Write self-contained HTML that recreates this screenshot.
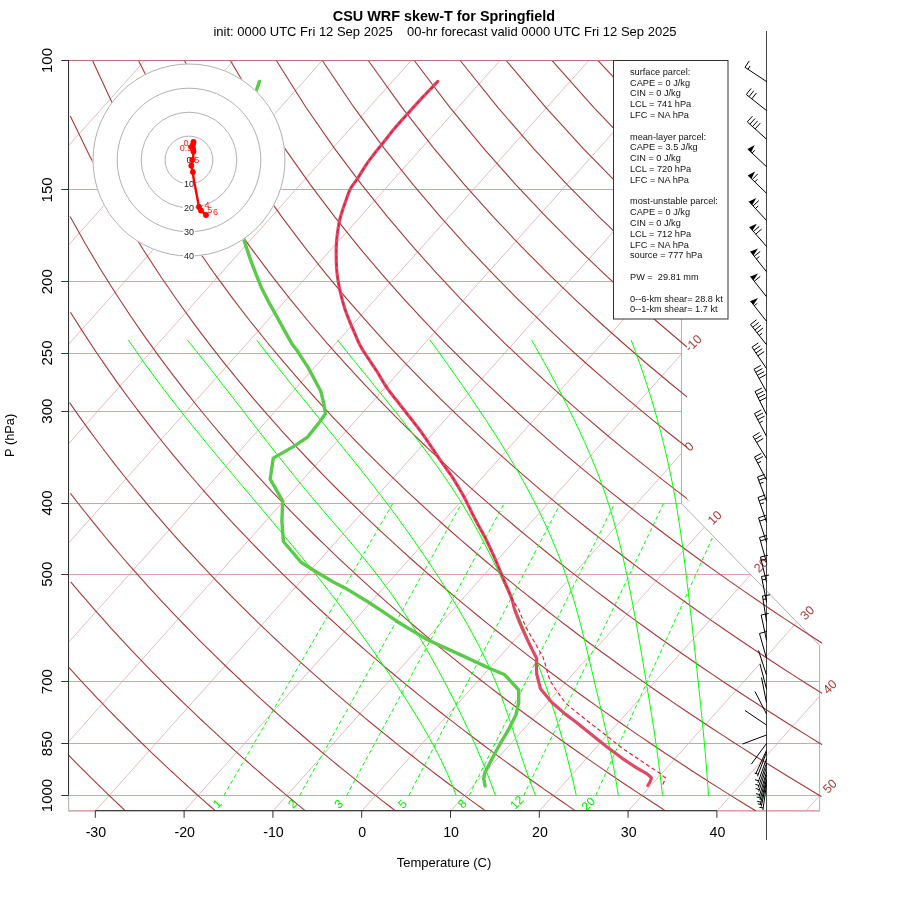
<!DOCTYPE html>
<html><head><meta charset="utf-8"><title>CSU WRF skew-T for Springfield</title>
<style>html,body{margin:0;padding:0;background:#fff;}svg{display:block;}</style></head>
<body><svg width="900" height="900" viewBox="0 0 900 900">
<rect width="900" height="900" fill="#fff"/>
<defs>
<clipPath id="cp"><polygon points="68.67,60.52 681.5,60.52 681.5,503.58 819.61,645.37 819.61,811.09 68.67,811.09"/></clipPath>
<clipPath id="cpd"><polygon points="68.67,58.52 687,58.52 687,498.63 822.11,641.37 822.11,796.09 819.91,798.09 819.91,811.09 68.67,811.09"/></clipPath>
</defs>
<polygon points="68.67,60.52 681.5,60.52 681.5,503.58 819.61,645.37 819.61,811.09 68.67,811.09" fill="none" stroke="#b0b0b0" stroke-width="1"/>
<g stroke="#dba0a4" stroke-width="1" fill="none"><line x1="68.67" y1="810.6" x2="819.61" y2="810.6"/><line x1="68.67" y1="795.5" x2="819.61" y2="795.5"/><line x1="68.67" y1="743.5" x2="819.61" y2="743.5"/><line x1="68.67" y1="681.5" x2="819.61" y2="681.5"/><line x1="68.67" y1="574.5" x2="750.35" y2="574.5"/><line x1="68.67" y1="503.5" x2="681.5" y2="503.5"/><line x1="68.67" y1="411.5" x2="681.5" y2="411.5"/><line x1="68.67" y1="353.5" x2="681.5" y2="353.5"/><line x1="68.67" y1="281.5" x2="681.5" y2="281.5"/><line x1="68.67" y1="189.5" x2="681.5" y2="189.5"/><line x1="68.67" y1="60.5" x2="681.5" y2="60.5"/></g>
<g clip-path="url(#cp)" stroke="#e0aaaa" stroke-width="0.8" fill="none"><line x1="-526.27" y1="811.09" x2="144.75" y2="60.52"/><line x1="-437.48" y1="811.09" x2="233.55" y2="60.52"/><line x1="-348.68" y1="811.09" x2="322.34" y2="60.52"/><line x1="-259.88" y1="811.09" x2="411.14" y2="60.52"/><line x1="-171.08" y1="811.09" x2="499.94" y2="60.52"/><line x1="-82.29" y1="811.09" x2="588.74" y2="60.52"/><line x1="6.51" y1="811.09" x2="677.53" y2="60.52"/><line x1="95.31" y1="811.09" x2="766.33" y2="60.52"/><line x1="184.11" y1="811.09" x2="855.13" y2="60.52"/><line x1="272.9" y1="811.09" x2="943.93" y2="60.52"/><line x1="361.7" y1="811.09" x2="1032.72" y2="60.52"/><line x1="450.5" y1="811.09" x2="1121.52" y2="60.52"/><line x1="539.3" y1="811.09" x2="1210.32" y2="60.52"/><line x1="628.09" y1="811.09" x2="1299.12" y2="60.52"/><line x1="716.89" y1="811.09" x2="1387.91" y2="60.52"/><line x1="805.69" y1="811.09" x2="1476.71" y2="60.52"/></g>
<g clip-path="url(#cpd)" stroke="#a63a3a" stroke-width="1.1" fill="none"><polyline points="68.2,754.71 69.2,755.74 70.19,756.76 71.19,757.78 72.18,758.8 73.17,759.81 74.16,760.82 75.15,761.83 76.14,762.83 77.12,763.83 78.11,764.83 79.09,765.82 80.07,766.81 81.05,767.8 82.03,768.79 83.01,769.77 83.99,770.75 84.96,771.72 85.93,772.69 86.91,773.66 87.88,774.63 88.85,775.6 89.81,776.56 90.78,777.52 91.75,778.47 92.71,779.42 93.67,780.37 94.63,781.32 95.59,782.26 96.55,783.21 97.51,784.14 98.47,785.08 99.42,786.01 100.38,786.94 101.33,787.87 102.28,788.8 103.23,789.72 104.18,790.64 105.12,791.56 106.07,792.47 107.01,793.38 107.96,794.29 108.9,795.2 109.84,796.1 110.78,797 111.72,797.9 112.66,798.8 113.59,799.69 114.53,800.58 115.46,801.47 116.39,802.36 117.32,803.24 118.25,804.12 119.18,805 120.11,805.88 121.04,806.75 121.96,807.63 122.88,808.5 123.81,809.36 124.73,810.23 125.65,811.09"/><polyline points="69.05,667.68 71.76,670.69 74.47,673.66 77.16,676.61 79.85,679.53 82.52,682.42 85.18,685.29 87.83,688.13 90.48,690.95 93.11,693.74 95.73,696.51 98.34,699.26 100.94,701.98 103.53,704.68 106.12,707.35 108.69,710.01 111.25,712.64 113.8,715.25 116.35,717.84 118.88,720.41 121.41,722.96 123.92,725.48 126.43,727.99 128.93,730.48 131.42,732.95 133.9,735.4 136.37,737.83 138.83,740.24 141.29,742.64 143.73,745.01 146.17,747.37 148.6,749.72 151.02,752.04 153.43,754.35 155.83,756.64 158.23,758.92 160.62,761.17 163,763.42 165.37,765.65 167.74,767.86 170.09,770.06 172.44,772.24 174.78,774.4 177.12,776.56 179.44,778.7 181.76,780.82 184.07,782.93 186.38,785.03 188.67,787.11 190.96,789.18 193.25,791.23 195.52,793.27 197.79,795.3 200.05,797.32 202.31,799.32 204.56,801.32 206.8,803.29 209.03,805.26 211.26,807.22 213.48,809.16 215.69,811.09"/><polyline points="70.71,581.83 75.36,587.37 79.97,592.82 84.56,598.18 89.11,603.44 93.63,608.62 98.13,613.72 102.59,618.74 107.02,623.68 111.42,628.55 115.8,633.34 120.14,638.07 124.46,642.72 128.75,647.31 133.01,651.83 137.25,656.28 141.46,660.68 145.65,665.02 149.81,669.3 153.94,673.52 158.05,677.69 162.14,681.8 166.2,685.86 170.24,689.87 174.26,693.83 178.25,697.74 182.22,701.61 186.17,705.43 190.09,709.2 194,712.93 197.88,716.62 201.74,720.26 205.58,723.86 209.4,727.42 213.21,730.95 216.99,734.43 220.75,737.88 224.49,741.29 228.21,744.66 231.92,748 235.6,751.31 239.27,754.58 242.92,757.82 246.55,761.02 250.16,764.19 253.76,767.34 257.34,770.45 260.9,773.53 264.44,776.58 267.97,779.6 271.48,782.6 274.98,785.56 278.46,788.5 281.92,791.42 285.37,794.3 288.8,797.16 292.22,800 295.62,802.81 299.01,805.59 302.38,808.35 305.74,811.09"/><polyline points="70.45,493.31 77.35,502.26 84.17,510.97 90.92,519.44 97.6,527.7 104.21,535.74 110.76,543.59 117.24,551.26 123.66,558.74 130.02,566.05 136.31,573.19 142.55,580.18 148.73,587.02 154.85,593.72 160.92,600.28 166.94,606.71 172.9,613.01 178.81,619.19 184.66,625.25 190.47,631.2 196.24,637.04 201.95,642.77 207.62,648.4 213.24,653.94 218.81,659.38 224.35,664.73 229.84,669.99 235.29,675.17 240.69,680.26 246.06,685.28 251.39,690.21 256.67,695.07 261.92,699.86 267.14,704.58 272.31,709.23 277.45,713.81 282.56,718.33 287.62,722.78 292.66,727.17 297.66,731.51 302.63,735.78 307.56,740 312.47,744.16 317.34,748.28 322.18,752.33 326.99,756.34 331.77,760.3 336.52,764.21 341.24,768.07 345.93,771.88 350.6,775.65 355.23,779.38 359.84,783.06 364.43,786.7 368.98,790.3 373.51,793.86 378.02,797.38 382.5,800.87 386.95,804.31 391.38,807.72 395.78,811.09"/><polyline points="69.56,402.57 79.02,416.09 88.34,429.06 97.53,441.53 106.59,453.52 115.53,465.08 124.34,476.24 133.03,487.02 141.61,497.45 150.08,507.55 158.44,517.34 166.7,526.83 174.85,536.06 182.91,545.02 190.87,553.74 198.73,562.23 206.51,570.49 214.2,578.55 221.8,586.41 229.32,594.08 236.76,601.57 244.12,608.89 251.4,616.05 258.61,623.05 265.75,629.89 272.81,636.6 279.81,643.16 286.74,649.6 293.6,655.91 300.4,662.09 307.14,668.16 313.82,674.11 320.43,679.96 326.99,685.7 333.49,691.34 339.93,696.88 346.32,702.32 352.66,707.68 358.94,712.94 365.17,718.12 371.36,723.22 377.49,728.24 383.57,733.18 389.61,738.05 395.6,742.84 401.55,747.56 407.45,752.21 413.31,756.8 419.12,761.32 424.9,765.77 430.63,770.17 436.32,774.51 441.97,778.78 447.58,783.01 453.16,787.17 458.69,791.29 464.19,795.35 469.65,799.36 475.08,803.32 480.47,807.23 485.83,811.09"/><polyline points="70.41,312.2 82.71,331.66 94.78,350.01 106.63,367.36 118.26,383.81 129.69,399.46 140.91,414.38 151.95,428.63 162.79,442.27 173.46,455.35 183.96,467.92 194.29,480.01 204.46,491.66 214.48,502.9 224.35,513.76 234.08,524.26 243.67,534.42 253.13,544.27 262.46,553.83 271.66,563.11 280.75,572.12 289.72,580.89 298.57,589.43 307.32,597.74 315.96,605.84 324.5,613.74 332.94,621.45 341.28,628.98 349.53,636.34 357.69,643.52 365.76,650.56 373.74,657.43 381.64,664.17 389.46,670.76 397.2,677.23 404.86,683.56 412.45,689.77 419.96,695.86 427.4,701.84 434.77,707.7 442.07,713.47 449.31,719.13 456.48,724.69 463.59,730.15 470.63,735.53 477.61,740.81 484.54,746.01 491.4,751.12 498.21,756.16 504.97,761.12 511.66,766 518.31,770.8 524.9,775.54 531.44,780.21 537.93,784.81 544.38,789.34 550.77,793.81 557.11,798.22 563.41,802.57 569.67,806.86 575.88,811.09"/><polyline points="70.09,216.48 85.6,244.19 100.76,269.68 115.58,293.29 130.07,315.28 144.24,335.84 158.11,355.17 171.68,373.38 184.97,390.62 197.99,406.97 210.76,422.52 223.28,437.36 235.56,451.53 247.63,465.1 259.48,478.12 271.12,490.62 282.57,502.66 293.83,514.26 304.91,525.45 315.82,536.26 326.55,546.72 337.13,556.84 347.56,566.66 357.83,576.18 367.96,585.43 377.96,594.41 387.82,603.15 397.55,611.66 407.15,619.94 416.63,628.02 426,635.9 435.25,643.58 444.4,651.09 453.43,658.43 462.37,665.59 471.2,672.61 479.93,679.47 488.57,686.18 497.12,692.76 505.57,699.21 513.94,705.53 522.23,711.72 530.43,717.8 538.55,723.76 546.59,729.62 554.56,735.37 562.45,741.01 570.26,746.56 578.01,752.02 585.68,757.38 593.29,762.65 600.83,767.84 608.31,772.95 615.72,777.97 623.07,782.92 630.35,787.79 637.58,792.59 644.75,797.32 651.86,801.97 658.92,806.56 665.92,811.09"/><polyline points="70.3,116.04 89.29,155.17 107.82,190.02 125.88,221.43 143.46,250.03 160.58,276.27 177.26,300.52 193.52,323.06 209.37,344.11 224.84,363.86 239.95,382.46 254.72,400.03 269.16,416.69 283.3,432.52 297.14,447.6 310.71,462 324.01,475.78 337.06,488.99 349.87,501.67 362.45,513.87 374.81,525.62 386.96,536.95 398.91,547.9 410.67,558.48 422.24,568.72 433.64,578.65 444.86,588.27 455.92,597.61 466.82,606.69 477.57,615.52 488.18,624.1 498.64,632.47 508.96,640.62 519.15,648.56 529.21,656.32 539.15,663.89 548.97,671.28 558.67,678.51 568.25,685.58 577.73,692.49 587.1,699.26 596.37,705.89 605.53,712.38 614.6,718.74 623.58,724.98 632.46,731.1 641.25,737.1 649.95,742.99 658.56,748.78 667.09,754.46 675.55,760.05 683.92,765.53 692.21,770.93 700.43,776.24 708.57,781.45 716.64,786.59 724.64,791.64 732.57,796.62 740.44,801.51 748.23,806.34 755.97,811.09"/><polyline points="92.49,60.52 114.31,107.44 135.56,148.33 156.2,184.58 176.22,217.13 195.64,246.66 214.49,273.69 232.81,298.61 250.61,321.73 267.94,343.28 284.82,363.47 301.28,382.46 317.34,400.38 333.02,417.35 348.35,433.46 363.34,448.8 378.02,463.43 392.39,477.43 406.48,490.83 420.3,503.7 433.86,516.06 447.17,527.97 460.25,539.44 473.1,550.52 485.74,561.23 498.17,571.59 510.4,581.62 522.44,591.35 534.3,600.79 545.99,609.96 557.5,618.87 568.85,627.54 580.05,635.99 591.09,644.21 601.99,652.23 612.74,660.05 623.36,667.68 633.85,675.14 644.2,682.42 654.44,689.55 664.55,696.51 674.55,703.33 684.43,710.01 694.2,716.55 703.86,722.96 713.42,729.24 722.88,735.4 732.24,741.44 741.51,747.37 750.68,753.2 759.76,758.92 768.75,764.53 777.66,770.06 786.48,775.48 795.21,780.82 803.87,786.07 812.45,791.23 820.95,796.31 829.38,801.32 837.73,806.24 846.01,811.09"/><polyline points="138.45,60.52 162.25,107.44 185.29,148.33 207.56,184.58 229.1,217.13 249.94,246.66 270.13,273.69 289.7,298.61 308.7,321.73 327.16,343.28 345.12,363.47 362.61,382.46 379.66,400.38 396.3,417.35 412.55,433.46 428.43,448.8 443.96,463.43 459.17,477.43 474.07,490.83 488.67,503.7 502.99,516.06 517.04,527.97 530.84,539.44 544.4,550.52 557.72,561.23 570.82,571.59 583.71,581.62 596.4,591.35 608.88,600.79 621.18,609.96 633.3,618.87 645.24,627.54 657.02,635.99 668.63,644.21 680.09,652.23 691.39,660.05 702.55,667.68 713.56,675.14 724.44,682.42 735.19,689.55 745.81,696.51 756.3,703.33 766.68,710.01 776.93,716.55 787.07,722.96 797.1,729.24 807.02,735.4 816.84,741.44 826.56,747.37 836.17,753.2 845.69,758.92 855.12,764.53 864.45,770.06 873.69,775.48 882.85,780.82 891.92,786.07 900.91,791.23 909.81,796.31 918.64,801.32 927.38,806.24 936.06,811.09"/><polyline points="184.41,60.52 210.18,107.44 235.01,148.33 258.93,184.58 281.99,217.13 304.25,246.66 325.76,273.69 346.59,298.61 366.78,321.73 386.37,343.28 405.41,363.47 423.94,382.46 441.98,400.38 459.58,417.35 476.75,433.46 493.52,448.8 509.91,463.43 525.95,477.43 541.65,490.83 557.04,503.7 572.12,516.06 586.91,527.97 601.44,539.44 615.7,550.52 629.71,561.23 643.48,571.59 657.02,581.62 670.35,591.35 683.47,600.79 696.38,609.96 709.1,618.87 721.63,627.54 733.99,635.99 746.17,644.21 758.18,652.23 770.04,660.05 781.74,667.68 793.28,675.14 804.69,682.42 815.95,689.55 827.07,696.51 838.06,703.33 848.92,710.01 859.66,716.55 870.28,722.96 880.78,729.24 891.17,735.4 901.44,741.44 911.61,747.37 921.67,753.2 931.63,758.92 941.48,764.53 951.25,770.06 960.91,775.48 970.49,780.82 979.97,786.07 989.36,791.23 998.67,796.31 1007.9,801.32 1017.04,806.24 1026.1,811.09"/><polyline points="230.37,60.52 258.12,107.44 284.73,148.33 310.29,184.58 334.88,217.13 358.55,246.66 381.4,273.69 403.48,298.61 424.86,321.73 445.59,343.28 465.71,363.47 485.27,382.46 504.31,400.38 522.85,417.35 540.94,433.46 558.6,448.8 575.85,463.43 592.73,477.43 609.24,490.83 625.4,503.7 641.25,516.06 656.79,527.97 672.03,539.44 686.99,550.52 701.69,561.23 716.13,571.59 730.34,581.62 744.3,591.35 758.05,600.79 771.58,609.96 784.9,618.87 798.02,627.54 810.96,635.99 823.71,644.21 836.28,652.23 848.69,660.05 860.92,667.68 873,675.14 884.93,682.42 896.7,689.55 908.33,696.51 919.82,703.33 931.17,710.01 942.39,716.55 953.49,722.96 964.46,729.24 975.31,735.4 986.04,741.44 996.66,747.37 1007.16,753.2 1017.56,758.92 1027.85,764.53 1038.04,770.06 1048.13,775.48 1058.12,780.82 1068.02,786.07 1077.82,791.23 1087.53,796.31 1097.16,801.32 1106.69,806.24 1116.15,811.09"/><polyline points="276.34,60.52 306.05,107.44 334.46,148.33 361.66,184.58 387.76,217.13 412.86,246.66 437.04,273.69 460.37,298.61 482.94,321.73 504.8,343.28 526.01,363.47 546.6,382.46 566.63,400.38 586.13,417.35 605.14,433.46 623.69,448.8 641.8,463.43 659.5,477.43 676.82,490.83 693.77,503.7 710.38,516.06 726.66,527.97 742.62,539.44 758.29,550.52 773.68,561.23 788.79,571.59 803.65,581.62 818.26,591.35 832.63,600.79 846.77,609.96 860.7,618.87 874.42,627.54 887.93,635.99 901.25,644.21 914.38,652.23 927.33,660.05 940.11,667.68 952.72,675.14 965.17,682.42 977.45,689.55 989.59,696.51 1001.58,703.33 1013.42,710.01 1025.13,716.55 1036.7,722.96 1048.14,729.24 1059.45,735.4 1070.64,741.44 1081.7,747.37 1092.65,753.2 1103.49,758.92 1114.22,764.53 1124.84,770.06 1135.35,775.48 1145.76,780.82 1156.07,786.07 1166.28,791.23 1176.39,796.31 1186.42,801.32 1196.35,806.24 1206.19,811.09"/><polyline points="322.3,60.52 353.99,107.44 384.18,148.33 413.03,184.58 440.65,217.13 467.16,246.66 492.67,273.69 517.27,298.61 541.03,321.73 564.02,343.28 586.3,363.47 607.93,382.46 628.95,400.38 649.41,417.35 669.34,433.46 688.77,448.8 707.74,463.43 726.28,477.43 744.4,490.83 762.14,503.7 779.51,516.06 796.53,527.97 813.21,539.44 829.59,550.52 845.66,561.23 861.45,571.59 876.96,581.62 892.21,591.35 907.21,600.79 921.97,609.96 936.5,618.87 950.81,627.54 964.9,635.99 978.79,644.21 992.48,652.23 1005.98,660.05 1019.3,667.68 1032.44,675.14 1045.41,682.42 1058.21,689.55 1070.85,696.51 1083.34,703.33 1095.67,710.01 1107.86,716.55 1119.91,722.96 1131.81,729.24 1143.59,735.4 1155.23,741.44 1166.75,747.37 1178.15,753.2 1189.42,758.92 1200.58,764.53 1211.63,770.06 1222.57,775.48 1233.39,780.82 1244.12,786.07 1254.74,791.23 1265.26,796.31 1275.68,801.32 1286,806.24 1296.24,811.09"/><polyline points="368.26,60.52 401.92,107.44 433.91,148.33 464.39,184.58 493.53,217.13 521.46,246.66 548.31,273.69 574.16,298.61 599.11,321.73 623.23,343.28 646.6,363.47 669.26,382.46 691.27,400.38 712.69,417.35 733.54,433.46 753.86,448.8 773.69,463.43 793.06,477.43 811.99,490.83 830.51,503.7 848.64,516.06 866.4,527.97 883.81,539.44 900.88,550.52 917.64,561.23 934.1,571.59 950.27,581.62 966.16,591.35 981.79,600.79 997.17,609.96 1012.3,618.87 1027.2,627.54 1041.87,635.99 1056.33,644.21 1070.58,652.23 1084.63,660.05 1098.49,667.68 1112.16,675.14 1125.65,682.42 1138.96,689.55 1152.11,696.51 1165.09,703.33 1177.92,710.01 1190.59,716.55 1203.11,722.96 1215.49,729.24 1227.73,735.4 1239.83,741.44 1251.8,747.37 1263.64,753.2 1275.36,758.92 1286.95,764.53 1298.42,770.06 1309.78,775.48 1321.03,780.82 1332.16,786.07 1343.19,791.23 1354.12,796.31 1364.94,801.32 1375.66,806.24 1386.28,811.09"/><polyline points="414.22,60.52 449.86,107.44 483.63,148.33 515.76,184.58 546.42,217.13 575.77,246.66 603.94,273.69 631.05,298.61 657.19,321.73 682.45,343.28 706.89,363.47 730.59,382.46 753.6,400.38 775.96,417.35 797.73,433.46 818.95,448.8 839.63,463.43 859.83,477.43 879.57,490.83 898.87,503.7 917.77,516.06 936.27,527.97 954.4,539.44 972.18,550.52 989.63,561.23 1006.76,571.59 1023.58,581.62 1040.12,591.35 1056.37,600.79 1072.36,609.96 1088.1,618.87 1103.59,627.54 1118.84,635.99 1133.87,644.21 1148.68,652.23 1163.28,660.05 1177.68,667.68 1191.88,675.14 1205.89,682.42 1219.72,689.55 1233.37,696.51 1246.85,703.33 1260.17,710.01 1273.32,716.55 1286.32,722.96 1299.17,729.24 1311.87,735.4 1324.43,741.44 1336.85,747.37 1349.14,753.2 1361.29,758.92 1373.32,764.53 1385.22,770.06 1397,775.48 1408.66,780.82 1420.21,786.07 1431.65,791.23 1442.98,796.31 1454.2,801.32 1465.31,806.24 1476.33,811.09"/><polyline points="460.19,60.52 497.79,107.44 533.36,148.33 567.12,184.58 599.31,217.13 630.07,246.66 659.58,273.69 687.94,298.61 715.27,321.73 741.66,343.28 767.19,363.47 791.92,382.46 815.92,400.38 839.24,417.35 861.93,433.46 884.03,448.8 905.58,463.43 926.61,477.43 947.16,490.83 967.24,503.7 986.89,516.06 1006.14,527.97 1024.99,539.44 1043.48,550.52 1061.61,561.23 1079.41,571.59 1096.89,581.62 1114.07,591.35 1130.95,600.79 1147.56,609.96 1163.9,618.87 1179.98,627.54 1195.81,635.99 1211.41,644.21 1226.78,652.23 1241.93,660.05 1256.86,667.68 1271.6,675.14 1286.13,682.42 1300.47,689.55 1314.63,696.51 1328.61,703.33 1342.42,710.01 1356.05,716.55 1369.53,722.96 1382.85,729.24 1396.01,735.4 1409.03,741.44 1421.9,747.37 1434.63,753.2 1447.22,758.92 1459.68,764.53 1472.01,770.06 1484.22,775.48 1496.3,780.82 1508.26,786.07 1520.11,791.23 1531.84,796.31 1543.46,801.32 1554.97,806.24 1566.37,811.09"/><polyline points="506.15,60.52 545.73,107.44 583.08,148.33 618.49,184.58 652.19,217.13 684.38,246.66 715.21,273.69 744.83,298.61 773.35,321.73 800.88,343.28 827.48,363.47 853.25,382.46 878.24,400.38 902.52,417.35 926.13,433.46 949.12,448.8 971.52,463.43 993.39,477.43 1014.74,490.83 1035.61,503.7 1056.02,516.06 1076.01,527.97 1095.58,539.44 1114.77,550.52 1133.6,561.23 1152.07,571.59 1170.2,581.62 1188.02,591.35 1205.53,600.79 1222.76,609.96 1239.7,618.87 1256.37,627.54 1272.78,635.99 1288.95,644.21 1304.88,652.23 1320.57,660.05 1336.05,667.68 1351.31,675.14 1366.37,682.42 1381.23,689.55 1395.89,696.51 1410.37,703.33 1424.66,710.01 1438.79,716.55 1452.74,722.96 1466.53,729.24 1480.15,735.4 1493.63,741.44 1506.95,747.37 1520.12,753.2 1533.16,758.92 1546.05,764.53 1558.81,770.06 1571.44,775.48 1583.94,780.82 1596.31,786.07 1608.57,791.23 1620.7,796.31 1632.72,801.32 1644.62,806.24 1656.42,811.09"/><polyline points="552.11,60.52 593.67,107.44 632.81,148.33 669.86,184.58 705.08,217.13 738.68,246.66 770.85,273.69 801.72,298.61 831.44,321.73 860.09,343.28 887.78,363.47 914.58,382.46 940.57,400.38 965.8,417.35 990.33,433.46 1014.2,448.8 1037.47,463.43 1060.16,477.43 1082.32,490.83 1103.98,503.7 1125.15,516.06 1145.88,527.97 1166.18,539.44 1186.07,550.52 1205.58,561.23 1224.72,571.59 1243.52,581.62 1261.97,591.35 1280.12,600.79 1297.95,609.96 1315.5,618.87 1332.76,627.54 1349.75,635.99 1366.49,644.21 1382.98,652.23 1399.22,660.05 1415.24,667.68 1431.03,675.14 1446.61,682.42 1461.98,689.55 1477.15,696.51 1492.13,703.33 1506.91,710.01 1521.52,716.55 1535.95,722.96 1550.2,729.24 1564.29,735.4 1578.22,741.44 1592,747.37 1605.62,753.2 1619.09,758.92 1632.42,764.53 1645.6,770.06 1658.65,775.48 1671.57,780.82 1684.36,786.07 1697.02,791.23 1709.56,796.31 1721.98,801.32 1734.28,806.24 1746.46,811.09"/><polyline points="598.07,60.52 641.6,107.44 682.53,148.33 721.22,184.58 757.96,217.13 792.99,246.66 826.48,273.69 858.62,298.61 889.52,321.73 919.3,343.28 948.07,363.47 975.91,382.46 1002.89,400.38 1029.07,417.35 1054.52,433.46 1079.29,448.8 1103.41,463.43 1126.94,477.43 1149.91,490.83 1172.34,503.7 1194.28,516.06 1215.75,527.97 1236.77,539.44 1257.37,550.52 1277.56,561.23 1297.38,571.59 1316.83,581.62 1335.93,591.35 1354.7,600.79 1373.15,609.96 1391.3,618.87 1409.15,627.54 1426.72,635.99 1444.03,644.21 1461.07,652.23 1477.87,660.05 1494.43,667.68 1510.75,675.14 1526.85,682.42 1542.74,689.55 1558.41,696.51 1573.88,703.33 1589.16,710.01 1604.25,716.55 1619.15,722.96 1633.88,729.24 1648.44,735.4 1662.82,741.44 1677.04,747.37 1691.11,753.2 1705.02,758.92 1718.78,764.53 1732.4,770.06 1745.87,775.48 1759.21,780.82 1772.41,786.07 1785.48,791.23 1798.42,796.31 1811.24,801.32 1823.93,806.24 1836.51,811.09"/><polyline points="644.03,60.52 689.54,107.44 732.26,148.33 772.59,184.58 810.85,217.13 847.29,246.66 882.12,273.69 915.51,298.61 947.6,321.73 978.52,343.28 1008.37,363.47 1037.24,382.46 1065.21,400.38 1092.35,417.35 1118.72,433.46 1144.38,448.8 1169.36,463.43 1193.72,477.43 1217.49,490.83 1240.71,503.7 1263.41,516.06 1285.62,527.97 1307.36,539.44 1328.66,550.52 1349.55,561.23 1370.03,571.59 1390.14,581.62 1409.88,591.35 1429.28,600.79 1448.35,609.96 1467.09,618.87 1485.54,627.54 1503.69,635.99 1521.57,644.21 1539.17,652.23 1556.52,660.05 1573.61,667.68 1590.47,675.14 1607.09,682.42 1623.49,689.55 1639.67,696.51 1655.64,703.33 1671.41,710.01 1686.98,716.55 1702.36,722.96 1717.56,729.24 1732.58,735.4 1747.42,741.44 1762.09,747.37 1776.6,753.2 1790.95,758.92 1805.15,764.53 1819.19,770.06 1833.09,775.48 1846.84,780.82 1860.46,786.07 1873.94,791.23 1887.28,796.31 1900.5,801.32 1913.59,806.24 1926.56,811.09"/></g>
<g clip-path="url(#cp)" stroke="#00ff00" stroke-width="1" stroke-dasharray="4,2.8" fill="none"><line x1="595.65" y1="795.52" x2="728.13" y2="503.03"/><line x1="523.69" y1="795.52" x2="663.77" y2="503.03"/><line x1="469.16" y1="795.52" x2="614.86" y2="503.03"/><line x1="408.82" y1="795.52" x2="560.57" y2="503.03"/><line x1="346.62" y1="795.52" x2="504.43" y2="503.03"/><line x1="299.63" y1="795.52" x2="461.9" y2="503.03"/><line x1="223.86" y1="795.52" x2="393.06" y2="503.03"/></g>
<g clip-path="url(#cp)" stroke="#00ff00" stroke-width="1" fill="none"><polyline points="456.2,795.52 451.85,784.13 446.98,772.74 441.65,761.35 435.88,749.96 429.71,738.57 423.2,727.19 416.36,715.8 409.26,704.41 401.92,693.02 394.38,681.63 386.68,670.24 378.82,658.85 370.81,647.46 362.64,636.08 354.32,624.69 345.84,613.3 337.2,601.91 328.42,590.52 319.47,579.13 310.38,567.74 301.14,556.36 291.79,544.97 282.34,533.58 272.82,522.19 263.25,510.8 253.65,499.41 244.05,488.02 234.47,476.64 224.93,465.25 215.45,453.86 206.04,442.47 196.74,431.08 187.56,419.69 178.51,408.3 169.64,396.92 160.94,385.53 152.45,374.14 144.18,362.75 136.16,351.36 128.4,339.97"/><polyline points="495.4,795.52 491.29,784.13 486.92,772.74 482.31,761.35 477.48,749.96 472.43,738.57 467.18,727.19 461.73,715.8 456.11,704.41 450.32,693.02 444.38,681.63 438.29,670.24 432.03,658.85 425.56,647.46 418.84,636.08 411.85,624.69 404.55,613.3 396.9,601.91 388.88,590.52 380.44,579.13 371.57,567.74 362.3,556.36 352.73,544.97 342.98,533.58 333.14,522.19 323.33,510.8 313.64,499.41 304.15,488.02 294.82,476.64 285.64,465.25 276.58,453.86 267.61,442.47 258.72,431.08 249.88,419.69 241.06,408.3 232.24,396.92 223.4,385.53 214.5,374.14 205.54,362.75 196.48,351.36 187.3,339.97"/><polyline points="535.5,795.52 531.08,784.13 526.97,772.74 523.08,761.35 519.34,749.96 515.67,738.57 511.99,727.19 508.22,715.8 504.28,704.41 500.1,693.02 495.59,681.63 490.69,670.24 485.41,658.85 479.77,647.46 473.8,636.08 467.53,624.69 460.97,613.3 454.16,601.91 447.11,590.52 439.86,579.13 432.42,567.74 424.81,556.36 417.02,544.97 409.04,533.58 400.88,522.19 392.52,510.8 383.96,499.41 375.21,488.02 366.3,476.64 357.25,465.25 348.1,453.86 338.86,442.47 329.57,431.08 320.25,419.69 310.93,408.3 301.64,396.92 292.41,385.53 283.26,374.14 274.23,362.75 265.33,351.36 256.6,339.97"/><polyline points="576.3,795.52 573.74,784.13 571.05,772.74 568.24,761.35 565.3,749.96 562.21,738.57 558.97,727.19 555.58,715.8 552.02,704.41 548.29,693.02 544.39,681.63 540.3,670.24 536.04,658.85 531.61,647.46 527.02,636.08 522.27,624.69 517.38,613.3 512.35,601.91 507.19,590.52 501.9,579.13 496.49,567.74 490.95,556.36 485.21,544.97 479.24,533.58 472.99,522.19 466.4,510.8 459.45,499.41 452.1,488.02 444.38,476.64 436.35,465.25 428.04,453.86 419.47,442.47 410.7,431.08 401.76,419.69 392.68,408.3 383.51,396.92 374.27,385.53 365.02,374.14 355.78,362.75 346.59,351.36 337.5,339.97"/><polyline points="618.3,795.52 616.57,784.13 614.61,772.74 612.46,761.35 610.15,749.96 607.69,738.57 605.13,727.19 602.5,715.8 599.81,704.41 597.1,693.02 594.39,681.63 591.71,670.24 589.04,658.85 586.32,647.46 583.54,636.08 580.64,624.69 577.6,613.3 574.39,601.91 570.95,590.52 567.26,579.13 563.29,567.74 559.01,556.36 554.43,544.97 549.56,533.58 544.38,522.19 538.9,510.8 533.14,499.41 527.08,488.02 520.75,476.64 514.17,465.25 507.35,453.86 500.31,442.47 493.07,431.08 485.64,419.69 478.05,408.3 470.32,396.92 462.45,385.53 454.46,374.14 446.38,362.75 438.22,351.36 430,339.97"/><polyline points="662.5,795.52 661.28,784.13 659.93,772.74 658.47,761.35 656.9,749.96 655.26,738.57 653.54,727.19 651.76,715.8 649.93,704.41 648.07,693.02 646.19,681.63 644.31,670.24 642.4,658.85 640.47,647.46 638.5,636.08 636.48,624.69 634.41,613.3 632.26,601.91 630.04,590.52 627.72,579.13 625.3,567.74 622.77,556.36 620.07,544.97 617.19,533.58 614.09,522.19 610.74,510.8 607.11,499.41 603.19,488.02 598.98,476.64 594.5,465.25 589.76,453.86 584.79,442.47 579.58,431.08 574.17,419.69 568.55,408.3 562.75,396.92 556.79,385.53 550.66,374.14 544.4,362.75 538,351.36 531.5,339.97"/><polyline points="708.5,795.52 707.72,784.13 706.87,772.74 705.95,761.35 704.97,749.96 703.93,738.57 702.85,727.19 701.73,715.8 700.57,704.41 699.39,693.02 698.2,681.63 696.99,670.24 695.77,658.85 694.53,647.46 693.28,636.08 692.01,624.69 690.71,613.3 689.4,601.91 688.06,590.52 686.69,579.13 685.3,567.74 683.86,556.36 682.36,544.97 680.78,533.58 679.1,522.19 677.31,510.8 675.37,499.41 673.28,488.02 671.03,476.64 668.63,465.25 666.07,453.86 663.34,442.47 660.45,431.08 657.39,419.69 654.16,408.3 650.76,396.92 647.19,385.53 643.44,374.14 639.51,362.75 635.4,351.36 631.1,339.97"/></g>
<line x1="68.67" y1="60.52" x2="681.5" y2="60.52" stroke="#b87070" stroke-width="1"/>
<g font-family="'Liberation Sans', Arial, Helvetica, sans-serif" font-size="12.5" fill="#a83a3a" dominant-baseline="central"><text transform="translate(687,349.76) rotate(-45)" x="0" y="0">-10</text><text transform="translate(687,449.08) rotate(-45)" x="0" y="0">0</text><text transform="translate(709.9,522.79) rotate(-45)" x="0" y="0">10</text><text transform="translate(756.2,570.32) rotate(-45)" x="0" y="0">20</text><text transform="translate(802.5,617.86) rotate(-45)" x="0" y="0">30</text><text transform="translate(825.11,691.89) rotate(-45)" x="0" y="0">40</text><text transform="translate(825.11,791.22) rotate(-45)" x="0" y="0">50</text></g>
<g font-family="'Liberation Sans', Arial, Helvetica, sans-serif" font-size="12" fill="#00ee00"><text transform="translate(217.3,803.8) rotate(-45)" text-anchor="middle" dominant-baseline="central">1</text><text transform="translate(292.6,804) rotate(-45)" text-anchor="middle" dominant-baseline="central">2</text><text transform="translate(338.7,804) rotate(-45)" text-anchor="middle" dominant-baseline="central">3</text><text transform="translate(402.5,804) rotate(-45)" text-anchor="middle" dominant-baseline="central">5</text><text transform="translate(462.4,803.8) rotate(-45)" text-anchor="middle" dominant-baseline="central">8</text><text transform="translate(517,802.5) rotate(-45)" text-anchor="middle" dominant-baseline="central">12</text><text transform="translate(588.3,804) rotate(-45)" text-anchor="middle" dominant-baseline="central">20</text></g>
<polyline points="259.5,81.4 256.4,90.2 250,105 243.7,239.4 250.2,258.9 254.9,271.3 261.1,286.9 268.9,302.4 276.7,316.4 284.4,330.4 292.2,344.4 296.7,350 308.3,367.9 320.8,391.2 323.9,404.4 325.4,413.8 320,421.5 307.5,437.1 295.1,445.6 273.3,458.1 271.8,468.2 270.2,479.1 282.7,501.1 281.9,521.3 283.4,541.5 301,562.2 314.4,570.8 332.8,581.8 345,587.9 368.2,602 382.9,611.7 400,623.3 427.5,639.8 463.3,656.1 490,668.5 504.8,674.8 518.7,690 518.7,702.7 516,714.7 508,730.7 500,744 492,758.7 484.7,773.3 483.7,778.7 485.1,786" fill="none" stroke="#5cc84c" stroke-width="3.4" stroke-linejoin="round" stroke-linecap="round"/>
<polyline points="437.8,81.4 437.51,81.71 437.19,82.05 436.77,82.49 436.2,83.11 435.39,83.95 434.3,85.1 432.88,86.57 431.18,88.33 429.26,90.31 427.16,92.49 424.96,94.8 422.7,97.2 420.29,99.8 417.68,102.64 414.95,105.63 412.21,108.64 409.56,111.57 407.1,114.3 404.85,116.79 402.73,119.14 400.71,121.39 398.72,123.63 396.74,125.91 394.7,128.3 392.59,130.85 390.42,133.53 388.26,136.25 386.13,138.94 384.1,141.51 382.2,143.9 380.45,146.07 378.81,148.09 377.26,149.99 375.77,151.83 374.33,153.65 372.9,155.5 371.51,157.34 370.19,159.13 368.91,160.89 367.64,162.67 366.38,164.5 365.1,166.4 363.79,168.42 362.47,170.54 361.15,172.7 359.84,174.85 358.55,176.94 357.3,178.9 356.05,180.71 354.8,182.41 353.58,184.04 352.4,185.66 351.3,187.29 350.3,189 349.44,190.77 348.7,192.55 348.03,194.36 347.4,196.2 346.77,198.08 346.1,200 345.37,202 344.62,204.09 343.86,206.21 343.13,208.33 342.43,210.4 341.8,212.4 341.24,214.25 340.73,215.97 340.27,217.65 339.83,219.37 339.41,221.23 339,223.3 338.58,225.67 338.16,228.27 337.76,231.01 337.39,233.76 337.07,236.43 336.8,238.9 336.6,241.1 336.44,243.1 336.34,245.01 336.27,246.94 336.22,249 336.2,251.3 336.19,253.91 336.21,256.77 336.25,259.75 336.33,262.76 336.44,265.67 336.6,268.4 336.81,270.93 337.07,273.35 337.36,275.69 337.69,277.96 338.04,280.19 338.4,282.4 338.77,284.55 339.16,286.62 339.57,288.65 340.01,290.68 340.48,292.75 341,294.9 341.56,297.15 342.15,299.46 342.78,301.81 343.45,304.18 344.15,306.55 344.9,308.9 345.73,311.31 346.64,313.82 347.6,316.33 348.54,318.74 349.43,320.97 350.2,322.9 350.8,324.38 351.26,325.46 351.65,326.35 352.07,327.26 352.59,328.4 353.3,330 354.22,332.15 355.29,334.69 356.46,337.47 357.69,340.32 358.95,343.09 360.2,345.6 361.43,347.83 362.68,349.91 363.95,351.9 365.26,353.87 366.6,355.88 368,358 369.46,360.22 370.99,362.49 372.55,364.81 374.14,367.16 375.73,369.56 377.3,372 378.84,374.51 380.37,377.11 381.91,379.75 383.46,382.39 385.05,384.99 386.7,387.5 388.42,389.92 390.19,392.28 392.01,394.59 393.84,396.89 395.68,399.18 397.5,401.5 399.31,403.83 401.13,406.17 402.94,408.5 404.76,410.83 406.58,413.17 408.4,415.5 410.22,417.81 412.03,420.11 413.85,422.4 415.67,424.71 417.48,427.07 419.3,429.5 421.14,432.03 422.99,434.64 424.85,437.3 426.69,439.96 428.48,442.57 430.2,445.1 431.86,447.56 433.47,450 435.04,452.39 436.57,454.72 438.06,456.96 439.5,459.1 440.91,461.12 442.28,463.04 443.61,464.88 444.89,466.64 446.12,468.35 447.3,470 448.35,471.46 449.25,472.7 450.11,473.87 451,475.15 452.04,476.7 453.3,478.7 454.83,481.19 456.57,484.05 458.44,487.18 460.39,490.5 462.33,493.9 464.2,497.3 466.02,500.77 467.83,504.39 469.65,508.1 471.47,511.83 473.28,515.52 475.1,519.1 476.94,522.56 478.79,525.95 480.65,529.3 482.49,532.63 484.28,535.95 486,539.3 487.66,542.68 489.27,546.09 490.84,549.49 492.37,552.88 493.86,556.22 495.3,559.5 496.68,562.69 497.99,565.79 499.25,568.85 500.5,571.91 501.78,575.01 503.1,578.2 504.54,581.58 506.07,585.13 507.63,588.73 509.13,592.23 510.48,595.5 511.6,598.4 512.42,600.81 512.98,602.81 513.39,604.59 513.78,606.3 514.24,608.11 514.9,610.2 515.75,612.56 516.69,615.06 517.72,617.67 518.81,620.35 519.94,623.07 521.1,625.8 522.31,628.58 523.58,631.45 524.9,634.36 526.24,637.26 527.58,640.13 528.9,642.9 530.29,645.76 531.79,648.76 533.29,651.72 534.68,654.44 535.85,656.73 536.7,658.4 536.3,664.7 536.7,674 540.5,688.8 551.4,702 564.7,713.6 575.6,721.8 591.1,734.2 606.7,746.7 622.2,758.3 636.2,767.7 647.1,773.9 651.4,777.8 650.2,781.6 647.9,785.5" fill="none" stroke="#dc4a68" stroke-width="3.2" stroke-linejoin="round" stroke-linecap="round"/>
<polyline points="437.8,81.4 437.51,81.71 437.19,82.05 436.77,82.49 436.2,83.11 435.39,83.95 434.3,85.1 432.88,86.57 431.18,88.33 429.26,90.31 427.16,92.49 424.96,94.8 422.7,97.2 420.29,99.8 417.68,102.64 414.95,105.63 412.21,108.64 409.56,111.57 407.1,114.3 404.85,116.79 402.73,119.14 400.71,121.39 398.72,123.63 396.74,125.91 394.7,128.3 392.59,130.85 390.42,133.53 388.26,136.25 386.13,138.94 384.1,141.51 382.2,143.9 380.45,146.07 378.81,148.09 377.26,149.99 375.77,151.83 374.33,153.65 372.9,155.5 371.51,157.34 370.19,159.13 368.91,160.89 367.64,162.67 366.38,164.5 365.1,166.4 363.79,168.42 362.47,170.54 361.15,172.7 359.84,174.85 358.55,176.94 357.3,178.9 356.05,180.71 354.8,182.41 353.58,184.04 352.4,185.66 351.3,187.29 350.3,189 349.44,190.77 348.7,192.55 348.03,194.36 347.4,196.2 346.77,198.08 346.1,200 345.37,202 344.62,204.09 343.86,206.21 343.13,208.33 342.43,210.4 341.8,212.4 341.24,214.25 340.73,215.97 340.27,217.65 339.83,219.37 339.41,221.23 339,223.3 338.58,225.67 338.16,228.27 337.76,231.01 337.39,233.76 337.07,236.43 336.8,238.9 336.6,241.1 336.44,243.1 336.34,245.01 336.27,246.94 336.22,249 336.2,251.3 336.19,253.91 336.21,256.77 336.25,259.75 336.33,262.76 336.44,265.67 336.6,268.4 336.81,270.93 337.07,273.35 337.36,275.69 337.69,277.96 338.04,280.19 338.4,282.4 338.77,284.55 339.16,286.62 339.57,288.65 340.01,290.68 340.48,292.75 341,294.9 341.56,297.15 342.15,299.46 342.78,301.81 343.45,304.18 344.15,306.55 344.9,308.9 345.73,311.31 346.64,313.82 347.6,316.33 348.54,318.74 349.43,320.97 350.2,322.9 350.8,324.38 351.26,325.46 351.65,326.35 352.07,327.26 352.59,328.4 353.3,330 354.22,332.15 355.29,334.69 356.46,337.47 357.69,340.32 358.95,343.09 360.2,345.6 361.43,347.83 362.68,349.91 363.95,351.9 365.26,353.87 366.6,355.88 368,358 369.46,360.22 370.99,362.49 372.55,364.81 374.14,367.16 375.73,369.56 377.3,372 378.84,374.51 380.37,377.11 381.91,379.75 383.46,382.39 385.05,384.99 386.7,387.5 388.42,389.92 390.19,392.28 392.01,394.59 393.84,396.89 395.68,399.18 397.5,401.5 399.31,403.83 401.13,406.17 402.94,408.5 404.76,410.83 406.58,413.17 408.4,415.5 410.22,417.81 412.03,420.11 413.85,422.4 415.67,424.71 417.48,427.07 419.3,429.5 421.14,432.03 422.99,434.64 424.85,437.3 426.69,439.96 428.48,442.57 430.2,445.1 431.86,447.56 433.47,450 435.04,452.39 436.57,454.72 438.06,456.96 439.5,459.1 440.91,461.12 442.28,463.04 443.61,464.88 444.89,466.64 446.12,468.35 447.3,470 448.35,471.46 449.25,472.7 450.11,473.87 451,475.15 452.04,476.7 453.3,478.7 454.83,481.19 456.57,484.05 458.44,487.18 460.39,490.5 462.33,493.9 464.2,497.3 466.02,500.77 467.83,504.39 469.65,508.1 471.47,511.83 473.28,515.52 475.1,519.1 476.94,522.56 478.79,525.95 480.65,529.3 482.49,532.63 484.28,535.95 486,539.3 487.66,542.68 489.27,546.09 490.84,549.49 492.37,552.88 493.86,556.22 495.3,559.5 496.68,562.69 497.99,565.79 499.25,568.85 500.5,571.91 501.78,575.01 503.1,578.2 504.54,581.58 506.07,585.13 507.63,588.73 509.13,592.23 510.48,595.5 511.6,598.4 519,610 525.6,626.7 533.3,640 538.3,648.9 542.8,656.7 545.2,664 547,671 550.1,680.8 556,690 565.7,703.3 586.7,720.4 606.9,736 622.4,748.4 641.1,760.9 659.8,773.3 665.5,778 662.9,784.5" fill="none" stroke="#f01030" stroke-width="1.1" stroke-dasharray="4,2.7"/>
<circle cx="189.0" cy="160.0" r="96.6" fill="#fff" stroke="none"/>
<g fill="none" stroke="#a8a8a8" stroke-width="0.9"><circle cx="189.0" cy="160.0" r="23.9"/><circle cx="189.0" cy="160.0" r="47.8"/><circle cx="189.0" cy="160.0" r="71.8"/><circle cx="189.0" cy="160.0" r="96.0"/></g>
<g font-family="'Liberation Sans', Arial, Helvetica, sans-serif" font-size="9" text-anchor="middle" fill="#222"><rect x="183" y="179.9" width="12" height="8" fill="#fff"/><text x="189" y="187.1">10</text><rect x="183" y="203.8" width="12" height="8" fill="#fff"/><text x="189" y="211">20</text><rect x="183" y="227.8" width="12" height="8" fill="#fff"/><text x="189" y="235">30</text><rect x="183" y="252" width="12" height="8" fill="#fff"/><text x="189" y="259.2">40</text></g>
<text x="189" y="163.2" font-family="'Liberation Sans', Arial, Helvetica, sans-serif" font-size="9" text-anchor="middle" fill="#222">0</text>
<polyline points="193.5,142 193,144.5 191.5,147 193,148.5 193.5,151.5 193,160 191.3,165.7 192.9,171.9 193.5,178 199,207 201,210.5 206,215" fill="none" stroke="#ff0000" stroke-width="2.4" stroke-linejoin="round"/>
<g fill="#ff0000"><circle cx="193.5" cy="142" r="2.9"/><circle cx="193" cy="144.5" r="2.9"/><circle cx="191.5" cy="147" r="2.9"/><circle cx="193" cy="148.5" r="2.9"/><circle cx="193.5" cy="151.5" r="2.9"/><circle cx="192.2" cy="160" r="2.9"/><circle cx="191.3" cy="165.7" r="2.9"/><circle cx="192.9" cy="171.9" r="2.9"/><circle cx="199" cy="207" r="2.9"/><circle cx="201" cy="210.5" r="2.9"/><circle cx="206" cy="215" r="2.9"/></g>
<g font-family="'Liberation Sans', Arial, Helvetica, sans-serif" font-size="9" fill="#ff2020"><text x="186" y="146" text-anchor="middle">0</text><text x="186" y="151.2" text-anchor="middle">0.5</text><text x="196.7" y="163.2" text-anchor="middle">5</text><text x="207" y="208" text-anchor="middle">4</text><text x="209.8" y="213" text-anchor="middle">5</text><text x="215.5" y="214.5" text-anchor="middle">6</text></g>
<rect x="613.5" y="60.5" width="114.5" height="258.5" fill="#fff" stroke="#333" stroke-width="1"/>
<g font-family="'Liberation Sans', Arial, Helvetica, sans-serif" font-size="9.2" fill="#111" style="white-space:pre"><text x="630" y="74.8" xml:space="preserve" style="white-space:pre">surface parcel:</text><text x="630" y="85.6" xml:space="preserve" style="white-space:pre">CAPE = 0 J/kg</text><text x="630" y="96.4" xml:space="preserve" style="white-space:pre">CIN = 0 J/kg</text><text x="630" y="107.2" xml:space="preserve" style="white-space:pre">LCL = 741 hPa</text><text x="630" y="118" xml:space="preserve" style="white-space:pre">LFC = NA hPa</text><text x="630" y="139.6" xml:space="preserve" style="white-space:pre">mean-layer parcel:</text><text x="630" y="150.4" xml:space="preserve" style="white-space:pre">CAPE = 3.5 J/kg</text><text x="630" y="161.2" xml:space="preserve" style="white-space:pre">CIN = 0 J/kg</text><text x="630" y="172" xml:space="preserve" style="white-space:pre">LCL = 720 hPa</text><text x="630" y="182.8" xml:space="preserve" style="white-space:pre">LFC = NA hPa</text><text x="630" y="204.4" xml:space="preserve" style="white-space:pre">most-unstable parcel:</text><text x="630" y="215.2" xml:space="preserve" style="white-space:pre">CAPE = 0 J/kg</text><text x="630" y="226" xml:space="preserve" style="white-space:pre">CIN = 0 J/kg</text><text x="630" y="236.8" xml:space="preserve" style="white-space:pre">LCL = 712 hPa</text><text x="630" y="247.6" xml:space="preserve" style="white-space:pre">LFC = NA hPa</text><text x="630" y="258.4" xml:space="preserve" style="white-space:pre">source = 777 hPa</text><text x="630" y="280" xml:space="preserve" style="white-space:pre">PW =  29.81 mm</text><text x="630" y="301.6" xml:space="preserve" style="white-space:pre">0--6-km shear= 28.8 kt</text><text x="630" y="312.4" xml:space="preserve" style="white-space:pre">0--1-km shear= 1.7 kt</text></g>
<g stroke="#333" stroke-width="1" fill="none"><line x1="68.5" y1="60" x2="68.5" y2="795.52"/><line x1="61.3" y1="795.5" x2="68.5" y2="795.5"/><line x1="61.3" y1="743.5" x2="68.5" y2="743.5"/><line x1="61.3" y1="681.5" x2="68.5" y2="681.5"/><line x1="61.3" y1="574.5" x2="68.5" y2="574.5"/><line x1="61.3" y1="503.5" x2="68.5" y2="503.5"/><line x1="61.3" y1="411.5" x2="68.5" y2="411.5"/><line x1="61.3" y1="353.5" x2="68.5" y2="353.5"/><line x1="61.3" y1="281.5" x2="68.5" y2="281.5"/><line x1="61.3" y1="189.5" x2="68.5" y2="189.5"/><line x1="61.3" y1="60.5" x2="68.5" y2="60.5"/><line x1="95.31" y1="810.6" x2="716.89" y2="810.6"/><line x1="95.31" y1="810.6" x2="95.31" y2="817.8"/><line x1="184.11" y1="810.6" x2="184.11" y2="817.8"/><line x1="272.9" y1="810.6" x2="272.9" y2="817.8"/><line x1="361.7" y1="810.6" x2="361.7" y2="817.8"/><line x1="450.5" y1="810.6" x2="450.5" y2="817.8"/><line x1="539.3" y1="810.6" x2="539.3" y2="817.8"/><line x1="628.09" y1="810.6" x2="628.09" y2="817.8"/><line x1="716.89" y1="810.6" x2="716.89" y2="817.8"/></g>
<g font-family="'Liberation Sans', Arial, Helvetica, sans-serif" font-size="15" fill="#000"><text transform="translate(52.3,795.52) rotate(-90)" text-anchor="middle">1000</text><text transform="translate(52.3,743.64) rotate(-90)" text-anchor="middle">850</text><text transform="translate(52.3,681.66) rotate(-90)" text-anchor="middle">700</text><text transform="translate(52.3,574.26) rotate(-90)" text-anchor="middle">500</text><text transform="translate(52.3,503.03) rotate(-90)" text-anchor="middle">400</text><text transform="translate(52.3,411.2) rotate(-90)" text-anchor="middle">300</text><text transform="translate(52.3,353) rotate(-90)" text-anchor="middle">250</text><text transform="translate(52.3,281.77) rotate(-90)" text-anchor="middle">200</text><text transform="translate(52.3,189.94) rotate(-90)" text-anchor="middle">150</text><text transform="translate(52.3,60.52) rotate(-90)" text-anchor="middle">100</text></g>
<g font-family="'Liberation Sans', Arial, Helvetica, sans-serif" font-size="14.2" fill="#000"><text x="95.91" y="837.2" text-anchor="middle">-30</text><text x="184.71" y="837.2" text-anchor="middle">-20</text><text x="273.5" y="837.2" text-anchor="middle">-10</text><text x="362.3" y="837.2" text-anchor="middle">0</text><text x="451.1" y="837.2" text-anchor="middle">10</text><text x="539.9" y="837.2" text-anchor="middle">20</text><text x="628.69" y="837.2" text-anchor="middle">30</text><text x="717.49" y="837.2" text-anchor="middle">40</text></g>
<text x="444" y="867" text-anchor="middle" font-family="'Liberation Sans', Arial, Helvetica, sans-serif" font-size="13" fill="#000">Temperature (C)</text>
<text transform="translate(14,435.4) rotate(-90)" text-anchor="middle" font-family="'Liberation Sans', Arial, Helvetica, sans-serif" font-size="12.8" fill="#000">P (hPa)</text>
<text x="444" y="20.6" text-anchor="middle" font-family="'Liberation Sans', Arial, Helvetica, sans-serif" font-size="14.4" font-weight="bold" fill="#000">CSU WRF skew-T for Springfield</text>
<text x="445" y="36.1" text-anchor="middle" font-family="'Liberation Sans', Arial, Helvetica, sans-serif" font-size="13" fill="#000" style="white-space:pre">init: 0000 UTC Fri 12 Sep 2025    00-hr forecast valid 0000 UTC Fri 12 Sep 2025</text>
<line x1="766.5" y1="31" x2="766.5" y2="840" stroke="#454545" stroke-width="1"/>
<g stroke="#000" stroke-width="1" fill="none" stroke-linecap="butt"><line x1="766.5" y1="81.56" x2="745" y2="67.3"/><line x1="745" y1="67.3" x2="749.26" y2="60.88"/><line x1="747.92" y1="69.23" x2="750.04" y2="66.03"/><line x1="766.5" y1="110.55" x2="746.3" y2="94.5"/><line x1="746.3" y1="94.5" x2="751.09" y2="88.47"/><line x1="749.04" y1="96.68" x2="753.83" y2="90.65"/><line x1="751.78" y1="98.85" x2="756.57" y2="92.83"/><line x1="766.5" y1="139.13" x2="747.3" y2="121.9"/><line x1="747.3" y1="121.9" x2="752.44" y2="116.17"/><line x1="749.9" y1="124.24" x2="755.05" y2="118.51"/><line x1="752.51" y1="126.58" x2="757.65" y2="120.85"/><line x1="755.11" y1="128.91" x2="760.26" y2="123.18"/><line x1="766.5" y1="166.67" x2="747.7" y2="149"/><line x1="752.07" y1="153.11" x2="754.71" y2="150.3"/><line x1="766.5" y1="193.28" x2="748" y2="175.3"/><line x1="752.3" y1="179.48" x2="757.67" y2="173.96"/><line x1="754.81" y1="181.92" x2="757.5" y2="179.16"/><line x1="766.5" y1="220.46" x2="749" y2="201.5"/><line x1="753.07" y1="205.91" x2="758.73" y2="200.69"/><line x1="755.44" y1="208.48" x2="758.27" y2="205.87"/><line x1="766.5" y1="246.41" x2="749.5" y2="227"/><line x1="753.45" y1="231.51" x2="759.25" y2="226.44"/><line x1="755.76" y1="234.15" x2="761.55" y2="229.07"/><line x1="766.5" y1="271.74" x2="750.5" y2="251.5"/><line x1="754.22" y1="256.21" x2="760.26" y2="251.43"/><line x1="756.39" y1="258.95" x2="759.41" y2="256.56"/><line x1="766.5" y1="296.74" x2="750.5" y2="276.5"/><line x1="754.22" y1="281.21" x2="760.26" y2="276.43"/><line x1="766.5" y1="321.24" x2="750.5" y2="301"/><line x1="754.22" y1="305.71" x2="757.24" y2="303.32"/><line x1="766.5" y1="344.74" x2="750.5" y2="324.5"/><line x1="750.5" y1="324.5" x2="756.54" y2="319.72"/><line x1="752.67" y1="327.25" x2="758.71" y2="322.47"/><line x1="754.84" y1="329.99" x2="760.88" y2="325.22"/><line x1="757.01" y1="332.74" x2="763.05" y2="327.96"/><line x1="759.18" y1="335.48" x2="762.2" y2="333.1"/><line x1="766.5" y1="368.54" x2="752" y2="347.2"/><line x1="752" y1="347.2" x2="758.37" y2="342.87"/><line x1="753.97" y1="350.09" x2="760.34" y2="345.77"/><line x1="755.93" y1="352.99" x2="762.3" y2="348.66"/><line x1="757.9" y1="355.88" x2="764.27" y2="351.56"/><line x1="766.5" y1="391.77" x2="754" y2="369.2"/><line x1="754" y1="369.2" x2="760.74" y2="365.47"/><line x1="755.7" y1="372.26" x2="762.43" y2="368.53"/><line x1="757.39" y1="375.32" x2="764.13" y2="371.59"/><line x1="759.09" y1="378.39" x2="765.82" y2="374.65"/><line x1="766.5" y1="414.6" x2="755" y2="391.5"/><line x1="755" y1="391.5" x2="761.89" y2="388.07"/><line x1="756.56" y1="394.63" x2="763.45" y2="391.2"/><line x1="758.12" y1="397.77" x2="765.01" y2="394.33"/><line x1="759.68" y1="400.9" x2="766.57" y2="397.47"/><line x1="766.5" y1="436.34" x2="754.5" y2="413.5"/><line x1="754.5" y1="413.5" x2="761.32" y2="409.92"/><line x1="756.13" y1="416.6" x2="762.94" y2="413.02"/><line x1="757.76" y1="419.7" x2="764.57" y2="416.12"/><line x1="759.38" y1="422.8" x2="762.79" y2="421"/><line x1="766.5" y1="458.49" x2="753" y2="436.5"/><line x1="753" y1="436.5" x2="759.56" y2="432.47"/><line x1="754.83" y1="439.48" x2="761.39" y2="435.45"/><line x1="756.66" y1="442.47" x2="763.22" y2="438.44"/><line x1="766.5" y1="479.84" x2="754.5" y2="457"/><line x1="754.5" y1="457" x2="761.32" y2="453.42"/><line x1="756.13" y1="460.1" x2="762.94" y2="456.52"/><line x1="757.76" y1="463.2" x2="761.16" y2="461.41"/><line x1="766.5" y1="501.18" x2="757.5" y2="477"/><line x1="757.5" y1="477" x2="764.72" y2="474.31"/><line x1="758.72" y1="480.28" x2="765.94" y2="477.59"/><line x1="759.94" y1="483.56" x2="763.55" y2="482.22"/><line x1="766.5" y1="521.86" x2="758" y2="497.5"/><line x1="758" y1="497.5" x2="765.27" y2="494.96"/><line x1="759.15" y1="500.8" x2="766.42" y2="498.27"/><line x1="760.31" y1="504.11" x2="763.94" y2="502.84"/><line x1="766.5" y1="542.33" x2="758.5" y2="517.8"/><line x1="758.5" y1="517.8" x2="765.82" y2="515.41"/><line x1="759.59" y1="521.13" x2="766.91" y2="518.74"/><line x1="766.5" y1="562.33" x2="759.5" y2="537.5"/><line x1="759.5" y1="537.5" x2="766.91" y2="535.41"/><line x1="760.45" y1="540.87" x2="767.86" y2="538.78"/><line x1="766.5" y1="582.09" x2="760.5" y2="557"/><line x1="760.5" y1="557" x2="767.99" y2="555.21"/><line x1="761.31" y1="560.4" x2="765.06" y2="559.51"/><line x1="766.5" y1="601.81" x2="761.5" y2="576.5"/><line x1="761.5" y1="576.5" x2="769.05" y2="575.01"/><line x1="762.18" y1="579.93" x2="765.96" y2="579.19"/><line x1="766.5" y1="621.49" x2="762.5" y2="596"/><line x1="762.5" y1="596" x2="770.11" y2="594.81"/><line x1="763.04" y1="599.46" x2="766.85" y2="598.86"/><line x1="766.5" y1="640.25" x2="761.2" y2="615"/><line x1="761.2" y1="615" x2="768.74" y2="613.42"/><line x1="766.5" y1="658.33" x2="759.5" y2="633.5"/><line x1="759.5" y1="633.5" x2="766.91" y2="631.41"/><line x1="766.5" y1="675.03" x2="758.5" y2="650.5"/><line x1="766.5" y1="688.97" x2="760" y2="664"/><line x1="766.5" y1="702.81" x2="761.5" y2="677.5"/><line x1="766.5" y1="714" x2="755" y2="691.5"/><line x1="766.5" y1="725" x2="745" y2="710.5"/><line x1="766.5" y1="735" x2="742.5" y2="744"/><line x1="766.5" y1="743.5" x2="751.3" y2="764.2"/><line x1="766.5" y1="750.27" x2="755.8" y2="773.75"/><line x1="766.5" y1="752.12" x2="757.5" y2="776.3"/><line x1="758.23" y1="774.33" x2="754.62" y2="772.99"/><line x1="766.5" y1="758.58" x2="757.9" y2="782.9"/><line x1="758.6" y1="780.92" x2="754.97" y2="779.64"/><line x1="766.5" y1="763.04" x2="758.3" y2="787.5"/><line x1="758.97" y1="785.51" x2="755.32" y2="784.29"/><line x1="766.5" y1="767.09" x2="758.75" y2="791.7"/><line x1="759.38" y1="789.7" x2="755.71" y2="788.54"/><line x1="766.5" y1="771.95" x2="759.2" y2="796.7"/><line x1="759.79" y1="794.69" x2="756.1" y2="793.6"/><line x1="766.5" y1="775.03" x2="760" y2="800"/><line x1="760.53" y1="797.97" x2="756.8" y2="797"/><line x1="766.5" y1="779.13" x2="760.4" y2="804.2"/><line x1="760.9" y1="802.16" x2="757.16" y2="801.25"/><line x1="766.5" y1="781.44" x2="761.25" y2="806.7"/><line x1="761.68" y1="804.64" x2="757.91" y2="803.86"/><line x1="766.5" y1="784.45" x2="762.9" y2="810"/><line x1="763.19" y1="807.92" x2="759.38" y2="807.38"/></g>
<g fill="#000"><polygon points="747.7,149 754.72,145.03 751.2,152.29"/><polygon points="748,175.3 755.09,171.45 751.44,178.65"/><polygon points="749,201.5 756.29,198.04 752.26,205.03"/><polygon points="749.5,227 756.87,223.73 752.66,230.61"/><polygon points="750.5,251.5 758.03,248.61 753.48,255.27"/><polygon points="750.5,276.5 758.03,273.61 753.48,280.27"/><polygon points="750.5,301 758.03,298.11 753.48,304.77"/></g>
</svg></body></html>
